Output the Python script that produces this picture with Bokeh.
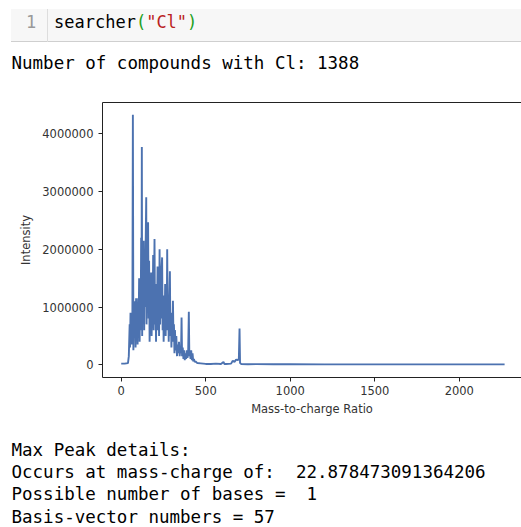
from bokeh.plotting import figure
from bokeh.models import Div, LinearAxis, FixedTicker, BasicTickFormatter, Range1d
from bokeh.layouts import column
from bokeh.embed import file_html
from bokeh.resources import INLINE

# ---- data ----
mz = [0, 20, 40, 45, 50, 52, 55, 58, 60, 63, 66, 69, 72, 75, 78, 82, 85, 88, 91, 94,
      97, 100, 103, 106, 109, 112, 115, 118, 120, 122, 124, 127, 130, 133, 136, 139,
      142, 145, 148, 150, 153, 156, 159, 162, 165, 168, 171, 174, 177, 180, 183, 186,
      189, 192, 195, 197, 200, 203, 206, 209, 212, 215, 218, 221, 224, 227, 230, 233,
      236, 239, 242, 245, 248, 251, 254, 257, 260, 263, 266, 269, 272, 275, 278, 281,
      284, 288, 291, 294, 297, 300, 303, 306, 309, 312, 315, 318, 322, 326, 330, 334,
      338, 342, 346, 350, 354, 357, 360, 364, 368, 372, 376, 380, 384, 388, 392, 396,
      400, 403, 406, 410, 414, 418, 422, 426, 430, 435, 440, 450, 470, 500, 530, 560,
      590, 605, 610, 620, 650, 660, 670, 680, 690, 696, 700, 703, 710, 750, 800, 900,
      1000, 1200, 1500, 1800, 2000, 2268]
intensity = [20000, 20000, 30000, 150000, 700000, 300000, 900000, 400000, 850000, 350000,
             700000, 4330000, 250000, 900000, 500000, 1100000, 300000, 1150000, 600000, 1000000,
             350000, 1150000, 700000, 1500000, 400000, 1300000, 600000, 2200000, 800000, 3770000,
             500000, 2100000, 900000, 2150000, 600000, 1900000, 1000000, 2150000, 2900000, 700000,
             2000000, 1100000, 2470000, 800000, 1800000, 400000, 1200000, 700000, 1600000, 500000,
             1300000, 900000, 1900000, 600000, 1500000, 2180000, 700000, 1400000, 400000, 1200000,
             900000, 1700000, 600000, 1300000, 500000, 2000000, 700000, 1400000, 800000, 1700000,
             1860000, 600000, 1200000, 400000, 1000000, 700000, 1400000, 500000, 1100000, 600000,
             2000000, 800000, 1200000, 400000, 1000000, 1620000, 500000, 900000, 300000, 800000,
             400000, 1110000, 500000, 700000, 200000, 600000, 250000, 500000, 150000, 350000,
             200000, 400000, 150000, 300000, 200000, 820000, 150000, 300000, 100000, 250000,
             80000, 200000, 100000, 250000, 120000, 200000, 920000, 150000, 250000, 100000,
             250000, 80000, 200000, 60000, 100000, 50000, 60000, 30000, 25000, 15000,
             15000, 20000, 15000, 50000, 15000, 15000, 20000, 70000, 50000, 90000,
             80000, 110000, 630000, 30000, 15000, 10000, 12000, 10000, 10000, 8000,
             8000, 8000, 8000, 8000]

x_ticks = [0, 500, 1000, 1500, 2000]
y_ticks = [0, 1000000, 2000000, 3000000, 4000000]
x_label = "Mass-to-charge Ratio"
y_label = "Intensity"

cmd_text = 'searcher'
cmd_arg = '"Cl"'
out_top = "Number of compounds with Cl: 1388"
out_bottom = [
    "Max Peak details:",
    "Occurs at mass-charge of:  22.878473091364206",
    "Possible number of bases =  1",
    "Basis-vector numbers = 57",
]

MONO = "'DejaVu Sans Mono', monospace"
W = 521

# ---- code cell ----
code_html = f"""
<div style="position:relative;width:{W}px;height:44px;">
  <div style="position:absolute;left:11px;top:9px;width:510px;height:33px;background:#f7f7f7;border-bottom:1px solid #cfcfcf;"></div>
  <div style="position:absolute;left:47px;top:9px;width:1px;height:33px;background:#dddddd;"></div>
  <div style="position:absolute;left:26px;top:12.4px;font-family:{MONO};font-size:17px;line-height:20px;color:#999999;white-space:pre;">1</div>
  <div style="position:absolute;left:54px;top:12.4px;font-family:{MONO};font-size:17px;line-height:20px;color:#000000;white-space:pre;">{cmd_text}<span style="color:#22a022">(</span><span style="color:#BA2121">{cmd_arg}</span><span style="color:#22a022">)</span></div>
</div>
"""
div_code = Div(text=code_html, width=W, height=44, margin=0)

top_html = f"""
<div style="position:relative;width:{W}px;height:46px;">
  <div style="position:absolute;left:11.5px;top:7.8px;font-family:{MONO};font-size:17.5px;line-height:22.3px;color:#000;white-space:pre;">{out_top}</div>
</div>
"""
div_top = Div(text=top_html, width=W, height=46, margin=0)

bottom_html = f"""
<div style="position:relative;width:{W}px;height:107px;overflow:hidden;">
  <div style="position:absolute;left:11.5px;top:18.8px;font-family:{MONO};font-size:17.5px;line-height:22.3px;color:#000;white-space:pre;">{'<br>'.join(out_bottom)}</div>
</div>
"""
div_bottom = Div(text=bottom_html, width=W, height=107, margin=0)

# ---- chart ----
p = figure(width=W, height=330, output_backend="svg", toolbar_location=None,
           x_range=Range1d(-110.7, 2368), y_range=Range1d(-220000, 4542000),
           min_border_left=102, min_border_right=0, min_border_top=12, min_border_bottom=43,
           margin=0)
p.outline_line_color = None
p.xgrid.visible = False
p.ygrid.visible = False
p.background_fill_color = "white"
p.border_fill_color = "white"

p.line(mz, intensity, line_color="#4C72B0", line_width=1.9)

for ax in (p.xaxis[0], p.yaxis[0]):
    ax.axis_line_color = "#222222"
    ax.axis_line_width = 1
    ax.major_tick_line_color = "#222222"
    ax.major_tick_in = 0
    ax.major_tick_out = 4
    ax.minor_tick_line_color = None
    ax.major_label_text_font = "DejaVu Sans"
    ax.major_label_text_font_size = "11.5px"
    ax.major_label_text_color = "#333333"
    ax.axis_label_text_font = "DejaVu Sans"
    ax.axis_label_text_font_size = "11.5px"
    ax.axis_label_text_font_style = "normal"
    ax.axis_label_text_color = "#333333"

p.xaxis[0].ticker = FixedTicker(ticks=x_ticks)
p.yaxis[0].ticker = FixedTicker(ticks=y_ticks)
p.yaxis[0].formatter = BasicTickFormatter(use_scientific=False)
p.xaxis[0].axis_label = x_label
p.yaxis[0].axis_label = y_label
p.xaxis[0].major_label_standoff = 4
p.xaxis[0].axis_label_standoff = 4
p.yaxis[0].major_label_standoff = 5
p.yaxis[0].axis_label_standoff = 6

top_axis = LinearAxis(ticker=FixedTicker(ticks=[]), axis_line_color="#222222", axis_line_width=1,
                      major_tick_line_color=None, minor_tick_line_color=None,
                      major_label_text_font_size="0px")
p.add_layout(top_axis, "above")

layout = column(div_code, div_top, p, div_bottom, spacing=0, margin=0)

open("out.html", "w").write(file_html(layout, INLINE))
